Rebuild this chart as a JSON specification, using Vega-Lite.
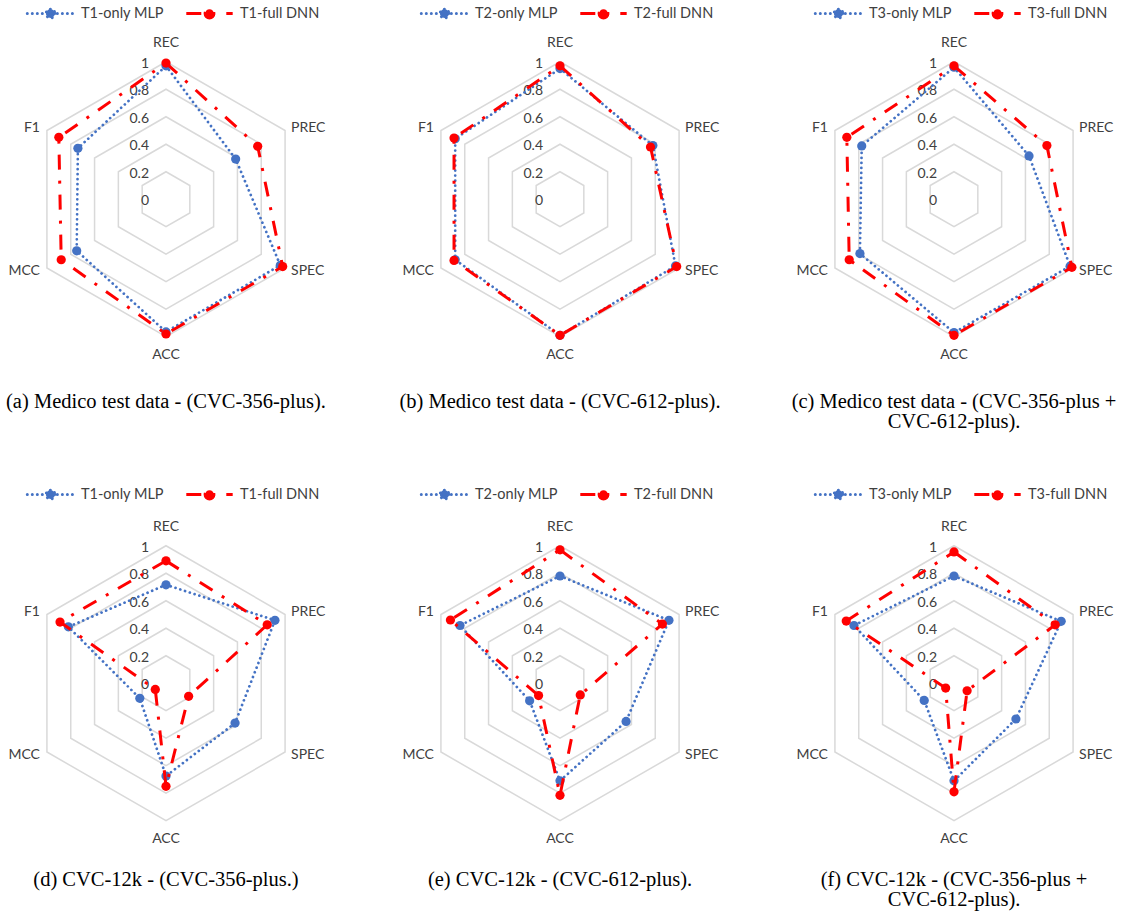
{
"$schema":"https://vega.github.io/schema/vega-lite/v6.json",
"padding":0,
"background":"white",
"datasets":{
"scores":[
{"panel":"a","model":"MLP","series":"T1-only MLP","REC":0.97,"PREC":0.585,"SPEC":0.96,"ACC":0.965,"MCC":0.75,"F1":0.74},
{"panel":"a","model":"DNN","series":"T1-full DNN","REC":0.99,"PREC":0.77,"SPEC":0.98,"ACC":0.98,"MCC":0.88,"F1":0.90},
{"panel":"b","model":"MLP","series":"T2-only MLP","REC":0.95,"PREC":0.78,"SPEC":0.97,"ACC":0.99,"MCC":0.88,"F1":0.88},
{"panel":"b","model":"DNN","series":"T2-full DNN","REC":0.97,"PREC":0.76,"SPEC":0.98,"ACC":0.99,"MCC":0.89,"F1":0.89},
{"panel":"c","model":"MLP","series":"T3-only MLP","REC":0.96,"PREC":0.63,"SPEC":0.975,"ACC":0.97,"MCC":0.79,"F1":0.775},
{"panel":"c","model":"DNN","series":"T3-full DNN","REC":0.97,"PREC":0.78,"SPEC":0.99,"ACC":0.99,"MCC":0.88,"F1":0.90},
{"panel":"d","model":"MLP","series":"T1-only MLP","REC":0.716,"PREC":0.915,"SPEC":0.58,"ACC":0.675,"MCC":0.22,"F1":0.82},
{"panel":"d","model":"DNN","series":"T1-full DNN","REC":0.89,"PREC":0.85,"SPEC":0.19,"ACC":0.75,"MCC":0.09,"F1":0.89},
{"panel":"e","model":"MLP","series":"T2-only MLP","REC":0.78,"PREC":0.915,"SPEC":0.555,"ACC":0.71,"MCC":0.255,"F1":0.84},
{"panel":"e","model":"DNN","series":"T2-full DNN","REC":0.97,"PREC":0.86,"SPEC":0.17,"ACC":0.815,"MCC":0.18,"F1":0.92},
{"panel":"f","model":"MLP","series":"T3-only MLP","REC":0.78,"PREC":0.90,"SPEC":0.52,"ACC":0.71,"MCC":0.25,"F1":0.84},
{"panel":"f","model":"DNN","series":"T3-full DNN","REC":0.955,"PREC":0.85,"SPEC":0.11,"ACC":0.79,"MCC":0.07,"F1":0.905}
],
"axes":[{"metric":"REC","ord":0},{"metric":"PREC","ord":1},{"metric":"SPEC","ord":2},{"metric":"ACC","ord":3},{"metric":"MCC","ord":4},{"metric":"F1","ord":5}],
"grid":[{"level":0.2,"ord":[0,1,2,3,4,5]},{"level":0.4,"ord":[0,1,2,3,4,5]},{"level":0.6,"ord":[0,1,2,3,4,5]},{"level":0.8,"ord":[0,1,2,3,4,5]},{"level":1,"ord":[0,1,2,3,4,5]}],
"ticks":[{"level":0},{"level":0.2},{"level":0.4},{"level":0.6},{"level":0.8},{"level":1}]
},
"concat":[
{"width":332,"height":385,"title":{"text":"(a) Medico test data - (CVC-356-plus).","offset":7},
"encoding":{"x":{"field":"px","type":"quantitative","scale":{"domain":[-1.2073,1.2073],"nice":false,"zero":false},"axis":null},"y":{"field":"py","type":"quantitative","scale":{"domain":[-1.351,1.449],"nice":false,"zero":false},"axis":null}},
"layer":[
{"data":{"name":"grid"},"transform":[{"flatten":["ord"]},{"calculate":"datum.level*sin(datum.ord*PI/3)","as":"px"},{"calculate":"datum.level*cos(datum.ord*PI/3)","as":"py"}],"mark":{"type":"line","interpolate":"linear-closed","stroke":"#D9D9D9","strokeWidth":1.5},"encoding":{"detail":{"field":"level","type":"nominal"},"order":{"field":"ord","type":"quantitative"}}},
{"data":{"name":"ticks"},"transform":[{"calculate":"0","as":"px"},{"calculate":"datum.level","as":"py"}],"mark":{"type":"text","align":"right","dx":-17,"dy":2},"encoding":{"text":{"field":"level","type":"quantitative"}}},
{"data":{"name":"axes"},"transform":[{"filter":"datum.ord==0||datum.ord==3"},{"calculate":"1.135*sin(datum.ord*PI/3)","as":"px"},{"calculate":"1.135*cos(datum.ord*PI/3)","as":"py"}],"mark":{"type":"text","align":"center"},"encoding":{"text":{"field":"metric","type":"nominal"}}},
{"data":{"name":"axes"},"transform":[{"filter":"datum.ord==1||datum.ord==2"},{"calculate":"sin(datum.ord*PI/3)","as":"px"},{"calculate":"1.04*cos(datum.ord*PI/3)","as":"py"}],"mark":{"type":"text","align":"left","dx":6},"encoding":{"text":{"field":"metric","type":"nominal"}}},
{"data":{"name":"axes"},"transform":[{"filter":"datum.ord==4||datum.ord==5"},{"calculate":"sin(datum.ord*PI/3)","as":"px"},{"calculate":"1.04*cos(datum.ord*PI/3)","as":"py"}],"mark":{"type":"text","align":"right","dx":-7},"encoding":{"text":{"field":"metric","type":"nominal"}}},
{"data":{"name":"scores"},"transform":[{"filter":"datum.panel=='a' && datum.model=='MLP'"},{"fold":["REC","PREC","SPEC","ACC","MCC","F1"],"as":["metric","value"]},{"lookup":"metric","from":{"data":{"name":"axes"},"key":"metric","fields":["ord"]}},{"calculate":"datum.value*sin(datum.ord*PI/3)","as":"px"},{"calculate":"datum.value*cos(datum.ord*PI/3)","as":"py"}],"mark":{"type":"line","interpolate":"linear-closed","strokeWidth":2.75,"strokeDash":[0.01,5],"strokeCap":"round"},"encoding":{"order":{"field":"ord","type":"quantitative"},"color":{"field":"series","type":"nominal","scale":{"domain":["T1-only MLP","T1-full DNN"],"range":["#4472C4","#FF0000"]},"legend":{"orient":"none","legendX":41,"legendY":4,"encode":{"symbols":{"update":{"fill":[{"test":"indexof(datum.value,'MLP')>=0","value":"#4472C4"},{"value":"#FF0000"}],"stroke":[{"test":"indexof(datum.value,'MLP')>=0","value":"#4472C4"},{"value":"#FF0000"}],"strokeDash":[{"test":"indexof(datum.value,'MLP')>=0","value":[0.01,5]},{"value":[15,11,3,11]}],"strokeCap":[{"test":"indexof(datum.value,'MLP')>=0","value":"round"},{"value":"butt"}],"opacity":{"value":1}}}}}}}},
{"data":{"name":"scores"},"transform":[{"filter":"datum.panel=='a' && datum.model=='MLP'"},{"fold":["REC","PREC","SPEC","ACC","MCC","F1"],"as":["metric","value"]},{"lookup":"metric","from":{"data":{"name":"axes"},"key":"metric","fields":["ord"]}},{"calculate":"datum.value*sin(datum.ord*PI/3)","as":"px"},{"calculate":"datum.value*cos(datum.ord*PI/3)","as":"py"}],"mark":{"type":"point","filled":true,"size":85,"opacity":1},"encoding":{"color":{"field":"series","type":"nominal"}}},
{"data":{"name":"scores"},"transform":[{"filter":"datum.panel=='a' && datum.model=='DNN'"},{"fold":["REC","PREC","SPEC","ACC","MCC","F1"],"as":["metric","value"]},{"lookup":"metric","from":{"data":{"name":"axes"},"key":"metric","fields":["ord"]}},{"calculate":"datum.value*sin(datum.ord*PI/3)","as":"px"},{"calculate":"datum.value*cos(datum.ord*PI/3)","as":"py"}],"mark":{"type":"line","interpolate":"linear-closed","strokeWidth":3,"strokeDash":[15,11,3,11]},"encoding":{"order":{"field":"ord","type":"quantitative"},"color":{"field":"series","type":"nominal"}}},
{"data":{"name":"scores"},"transform":[{"filter":"datum.panel=='a' && datum.model=='DNN'"},{"fold":["REC","PREC","SPEC","ACC","MCC","F1"],"as":["metric","value"]},{"lookup":"metric","from":{"data":{"name":"axes"},"key":"metric","fields":["ord"]}},{"calculate":"datum.value*sin(datum.ord*PI/3)","as":"px"},{"calculate":"datum.value*cos(datum.ord*PI/3)","as":"py"}],"mark":{"type":"point","filled":true,"size":85,"opacity":1},"encoding":{"color":{"field":"series","type":"nominal"}}}
]},
{"width":332,"height":385,"title":{"text":"(b) Medico test data - (CVC-612-plus).","offset":7},
"encoding":{"x":{"field":"px","type":"quantitative","scale":{"domain":[-1.2073,1.2073],"nice":false,"zero":false},"axis":null},"y":{"field":"py","type":"quantitative","scale":{"domain":[-1.351,1.449],"nice":false,"zero":false},"axis":null}},
"layer":[
{"data":{"name":"grid"},"transform":[{"flatten":["ord"]},{"calculate":"datum.level*sin(datum.ord*PI/3)","as":"px"},{"calculate":"datum.level*cos(datum.ord*PI/3)","as":"py"}],"mark":{"type":"line","interpolate":"linear-closed","stroke":"#D9D9D9","strokeWidth":1.5},"encoding":{"detail":{"field":"level","type":"nominal"},"order":{"field":"ord","type":"quantitative"}}},
{"data":{"name":"ticks"},"transform":[{"calculate":"0","as":"px"},{"calculate":"datum.level","as":"py"}],"mark":{"type":"text","align":"right","dx":-17,"dy":2},"encoding":{"text":{"field":"level","type":"quantitative"}}},
{"data":{"name":"axes"},"transform":[{"filter":"datum.ord==0||datum.ord==3"},{"calculate":"1.135*sin(datum.ord*PI/3)","as":"px"},{"calculate":"1.135*cos(datum.ord*PI/3)","as":"py"}],"mark":{"type":"text","align":"center"},"encoding":{"text":{"field":"metric","type":"nominal"}}},
{"data":{"name":"axes"},"transform":[{"filter":"datum.ord==1||datum.ord==2"},{"calculate":"sin(datum.ord*PI/3)","as":"px"},{"calculate":"1.04*cos(datum.ord*PI/3)","as":"py"}],"mark":{"type":"text","align":"left","dx":6},"encoding":{"text":{"field":"metric","type":"nominal"}}},
{"data":{"name":"axes"},"transform":[{"filter":"datum.ord==4||datum.ord==5"},{"calculate":"sin(datum.ord*PI/3)","as":"px"},{"calculate":"1.04*cos(datum.ord*PI/3)","as":"py"}],"mark":{"type":"text","align":"right","dx":-7},"encoding":{"text":{"field":"metric","type":"nominal"}}},
{"data":{"name":"scores"},"transform":[{"filter":"datum.panel=='b' && datum.model=='MLP'"},{"fold":["REC","PREC","SPEC","ACC","MCC","F1"],"as":["metric","value"]},{"lookup":"metric","from":{"data":{"name":"axes"},"key":"metric","fields":["ord"]}},{"calculate":"datum.value*sin(datum.ord*PI/3)","as":"px"},{"calculate":"datum.value*cos(datum.ord*PI/3)","as":"py"}],"mark":{"type":"line","interpolate":"linear-closed","strokeWidth":2.75,"strokeDash":[0.01,5],"strokeCap":"round"},"encoding":{"order":{"field":"ord","type":"quantitative"},"color":{"field":"series","type":"nominal","scale":{"domain":["T2-only MLP","T2-full DNN"],"range":["#4472C4","#FF0000"]},"legend":{"orient":"none","legendX":41,"legendY":4,"encode":{"symbols":{"update":{"fill":[{"test":"indexof(datum.value,'MLP')>=0","value":"#4472C4"},{"value":"#FF0000"}],"stroke":[{"test":"indexof(datum.value,'MLP')>=0","value":"#4472C4"},{"value":"#FF0000"}],"strokeDash":[{"test":"indexof(datum.value,'MLP')>=0","value":[0.01,5]},{"value":[15,11,3,11]}],"strokeCap":[{"test":"indexof(datum.value,'MLP')>=0","value":"round"},{"value":"butt"}],"opacity":{"value":1}}}}}}}},
{"data":{"name":"scores"},"transform":[{"filter":"datum.panel=='b' && datum.model=='MLP'"},{"fold":["REC","PREC","SPEC","ACC","MCC","F1"],"as":["metric","value"]},{"lookup":"metric","from":{"data":{"name":"axes"},"key":"metric","fields":["ord"]}},{"calculate":"datum.value*sin(datum.ord*PI/3)","as":"px"},{"calculate":"datum.value*cos(datum.ord*PI/3)","as":"py"}],"mark":{"type":"point","filled":true,"size":85,"opacity":1},"encoding":{"color":{"field":"series","type":"nominal"}}},
{"data":{"name":"scores"},"transform":[{"filter":"datum.panel=='b' && datum.model=='DNN'"},{"fold":["REC","PREC","SPEC","ACC","MCC","F1"],"as":["metric","value"]},{"lookup":"metric","from":{"data":{"name":"axes"},"key":"metric","fields":["ord"]}},{"calculate":"datum.value*sin(datum.ord*PI/3)","as":"px"},{"calculate":"datum.value*cos(datum.ord*PI/3)","as":"py"}],"mark":{"type":"line","interpolate":"linear-closed","strokeWidth":3,"strokeDash":[15,11,3,11]},"encoding":{"order":{"field":"ord","type":"quantitative"},"color":{"field":"series","type":"nominal"}}},
{"data":{"name":"scores"},"transform":[{"filter":"datum.panel=='b' && datum.model=='DNN'"},{"fold":["REC","PREC","SPEC","ACC","MCC","F1"],"as":["metric","value"]},{"lookup":"metric","from":{"data":{"name":"axes"},"key":"metric","fields":["ord"]}},{"calculate":"datum.value*sin(datum.ord*PI/3)","as":"px"},{"calculate":"datum.value*cos(datum.ord*PI/3)","as":"py"}],"mark":{"type":"point","filled":true,"size":85,"opacity":1},"encoding":{"color":{"field":"series","type":"nominal"}}}
]},
{"width":332,"height":385,"title":{"text":["(c) Medico test data - (CVC-356-plus +","CVC-612-plus)."],"offset":7},
"encoding":{"x":{"field":"px","type":"quantitative","scale":{"domain":[-1.2073,1.2073],"nice":false,"zero":false},"axis":null},"y":{"field":"py","type":"quantitative","scale":{"domain":[-1.351,1.449],"nice":false,"zero":false},"axis":null}},
"layer":[
{"data":{"name":"grid"},"transform":[{"flatten":["ord"]},{"calculate":"datum.level*sin(datum.ord*PI/3)","as":"px"},{"calculate":"datum.level*cos(datum.ord*PI/3)","as":"py"}],"mark":{"type":"line","interpolate":"linear-closed","stroke":"#D9D9D9","strokeWidth":1.5},"encoding":{"detail":{"field":"level","type":"nominal"},"order":{"field":"ord","type":"quantitative"}}},
{"data":{"name":"ticks"},"transform":[{"calculate":"0","as":"px"},{"calculate":"datum.level","as":"py"}],"mark":{"type":"text","align":"right","dx":-17,"dy":2},"encoding":{"text":{"field":"level","type":"quantitative"}}},
{"data":{"name":"axes"},"transform":[{"filter":"datum.ord==0||datum.ord==3"},{"calculate":"1.135*sin(datum.ord*PI/3)","as":"px"},{"calculate":"1.135*cos(datum.ord*PI/3)","as":"py"}],"mark":{"type":"text","align":"center"},"encoding":{"text":{"field":"metric","type":"nominal"}}},
{"data":{"name":"axes"},"transform":[{"filter":"datum.ord==1||datum.ord==2"},{"calculate":"sin(datum.ord*PI/3)","as":"px"},{"calculate":"1.04*cos(datum.ord*PI/3)","as":"py"}],"mark":{"type":"text","align":"left","dx":6},"encoding":{"text":{"field":"metric","type":"nominal"}}},
{"data":{"name":"axes"},"transform":[{"filter":"datum.ord==4||datum.ord==5"},{"calculate":"sin(datum.ord*PI/3)","as":"px"},{"calculate":"1.04*cos(datum.ord*PI/3)","as":"py"}],"mark":{"type":"text","align":"right","dx":-7},"encoding":{"text":{"field":"metric","type":"nominal"}}},
{"data":{"name":"scores"},"transform":[{"filter":"datum.panel=='c' && datum.model=='MLP'"},{"fold":["REC","PREC","SPEC","ACC","MCC","F1"],"as":["metric","value"]},{"lookup":"metric","from":{"data":{"name":"axes"},"key":"metric","fields":["ord"]}},{"calculate":"datum.value*sin(datum.ord*PI/3)","as":"px"},{"calculate":"datum.value*cos(datum.ord*PI/3)","as":"py"}],"mark":{"type":"line","interpolate":"linear-closed","strokeWidth":2.75,"strokeDash":[0.01,5],"strokeCap":"round"},"encoding":{"order":{"field":"ord","type":"quantitative"},"color":{"field":"series","type":"nominal","scale":{"domain":["T3-only MLP","T3-full DNN"],"range":["#4472C4","#FF0000"]},"legend":{"orient":"none","legendX":41,"legendY":4,"encode":{"symbols":{"update":{"fill":[{"test":"indexof(datum.value,'MLP')>=0","value":"#4472C4"},{"value":"#FF0000"}],"stroke":[{"test":"indexof(datum.value,'MLP')>=0","value":"#4472C4"},{"value":"#FF0000"}],"strokeDash":[{"test":"indexof(datum.value,'MLP')>=0","value":[0.01,5]},{"value":[15,11,3,11]}],"strokeCap":[{"test":"indexof(datum.value,'MLP')>=0","value":"round"},{"value":"butt"}],"opacity":{"value":1}}}}}}}},
{"data":{"name":"scores"},"transform":[{"filter":"datum.panel=='c' && datum.model=='MLP'"},{"fold":["REC","PREC","SPEC","ACC","MCC","F1"],"as":["metric","value"]},{"lookup":"metric","from":{"data":{"name":"axes"},"key":"metric","fields":["ord"]}},{"calculate":"datum.value*sin(datum.ord*PI/3)","as":"px"},{"calculate":"datum.value*cos(datum.ord*PI/3)","as":"py"}],"mark":{"type":"point","filled":true,"size":85,"opacity":1},"encoding":{"color":{"field":"series","type":"nominal"}}},
{"data":{"name":"scores"},"transform":[{"filter":"datum.panel=='c' && datum.model=='DNN'"},{"fold":["REC","PREC","SPEC","ACC","MCC","F1"],"as":["metric","value"]},{"lookup":"metric","from":{"data":{"name":"axes"},"key":"metric","fields":["ord"]}},{"calculate":"datum.value*sin(datum.ord*PI/3)","as":"px"},{"calculate":"datum.value*cos(datum.ord*PI/3)","as":"py"}],"mark":{"type":"line","interpolate":"linear-closed","strokeWidth":3,"strokeDash":[15,11,3,11]},"encoding":{"order":{"field":"ord","type":"quantitative"},"color":{"field":"series","type":"nominal"}}},
{"data":{"name":"scores"},"transform":[{"filter":"datum.panel=='c' && datum.model=='DNN'"},{"fold":["REC","PREC","SPEC","ACC","MCC","F1"],"as":["metric","value"]},{"lookup":"metric","from":{"data":{"name":"axes"},"key":"metric","fields":["ord"]}},{"calculate":"datum.value*sin(datum.ord*PI/3)","as":"px"},{"calculate":"datum.value*cos(datum.ord*PI/3)","as":"py"}],"mark":{"type":"point","filled":true,"size":85,"opacity":1},"encoding":{"color":{"field":"series","type":"nominal"}}}
]},
{"width":332,"height":385,"title":{"text":"(d) CVC-12k - (CVC-356-plus.)","offset":1},
"encoding":{"x":{"field":"px","type":"quantitative","scale":{"domain":[-1.2073,1.2073],"nice":false,"zero":false},"axis":null},"y":{"field":"py","type":"quantitative","scale":{"domain":[-1.351,1.449],"nice":false,"zero":false},"axis":null}},
"layer":[
{"data":{"name":"grid"},"transform":[{"flatten":["ord"]},{"calculate":"datum.level*sin(datum.ord*PI/3)","as":"px"},{"calculate":"datum.level*cos(datum.ord*PI/3)","as":"py"}],"mark":{"type":"line","interpolate":"linear-closed","stroke":"#D9D9D9","strokeWidth":1.5},"encoding":{"detail":{"field":"level","type":"nominal"},"order":{"field":"ord","type":"quantitative"}}},
{"data":{"name":"ticks"},"transform":[{"calculate":"0","as":"px"},{"calculate":"datum.level","as":"py"}],"mark":{"type":"text","align":"right","dx":-17,"dy":2},"encoding":{"text":{"field":"level","type":"quantitative"}}},
{"data":{"name":"axes"},"transform":[{"filter":"datum.ord==0||datum.ord==3"},{"calculate":"1.135*sin(datum.ord*PI/3)","as":"px"},{"calculate":"1.135*cos(datum.ord*PI/3)","as":"py"}],"mark":{"type":"text","align":"center"},"encoding":{"text":{"field":"metric","type":"nominal"}}},
{"data":{"name":"axes"},"transform":[{"filter":"datum.ord==1||datum.ord==2"},{"calculate":"sin(datum.ord*PI/3)","as":"px"},{"calculate":"1.04*cos(datum.ord*PI/3)","as":"py"}],"mark":{"type":"text","align":"left","dx":6},"encoding":{"text":{"field":"metric","type":"nominal"}}},
{"data":{"name":"axes"},"transform":[{"filter":"datum.ord==4||datum.ord==5"},{"calculate":"sin(datum.ord*PI/3)","as":"px"},{"calculate":"1.04*cos(datum.ord*PI/3)","as":"py"}],"mark":{"type":"text","align":"right","dx":-7},"encoding":{"text":{"field":"metric","type":"nominal"}}},
{"data":{"name":"scores"},"transform":[{"filter":"datum.panel=='d' && datum.model=='MLP'"},{"fold":["REC","PREC","SPEC","ACC","MCC","F1"],"as":["metric","value"]},{"lookup":"metric","from":{"data":{"name":"axes"},"key":"metric","fields":["ord"]}},{"calculate":"datum.value*sin(datum.ord*PI/3)","as":"px"},{"calculate":"datum.value*cos(datum.ord*PI/3)","as":"py"}],"mark":{"type":"line","interpolate":"linear-closed","strokeWidth":2.75,"strokeDash":[0.01,5],"strokeCap":"round"},"encoding":{"order":{"field":"ord","type":"quantitative"},"color":{"field":"series","type":"nominal","scale":{"domain":["T1-only MLP","T1-full DNN"],"range":["#4472C4","#FF0000"]},"legend":{"orient":"none","legendX":41,"legendY":1,"encode":{"symbols":{"update":{"fill":[{"test":"indexof(datum.value,'MLP')>=0","value":"#4472C4"},{"value":"#FF0000"}],"stroke":[{"test":"indexof(datum.value,'MLP')>=0","value":"#4472C4"},{"value":"#FF0000"}],"strokeDash":[{"test":"indexof(datum.value,'MLP')>=0","value":[0.01,5]},{"value":[15,11,3,11]}],"strokeCap":[{"test":"indexof(datum.value,'MLP')>=0","value":"round"},{"value":"butt"}],"opacity":{"value":1}}}}}}}},
{"data":{"name":"scores"},"transform":[{"filter":"datum.panel=='d' && datum.model=='MLP'"},{"fold":["REC","PREC","SPEC","ACC","MCC","F1"],"as":["metric","value"]},{"lookup":"metric","from":{"data":{"name":"axes"},"key":"metric","fields":["ord"]}},{"calculate":"datum.value*sin(datum.ord*PI/3)","as":"px"},{"calculate":"datum.value*cos(datum.ord*PI/3)","as":"py"}],"mark":{"type":"point","filled":true,"size":85,"opacity":1},"encoding":{"color":{"field":"series","type":"nominal"}}},
{"data":{"name":"scores"},"transform":[{"filter":"datum.panel=='d' && datum.model=='DNN'"},{"fold":["REC","PREC","SPEC","ACC","MCC","F1"],"as":["metric","value"]},{"lookup":"metric","from":{"data":{"name":"axes"},"key":"metric","fields":["ord"]}},{"calculate":"datum.value*sin(datum.ord*PI/3)","as":"px"},{"calculate":"datum.value*cos(datum.ord*PI/3)","as":"py"}],"mark":{"type":"line","interpolate":"linear-closed","strokeWidth":3,"strokeDash":[15,11,3,11]},"encoding":{"order":{"field":"ord","type":"quantitative"},"color":{"field":"series","type":"nominal"}}},
{"data":{"name":"scores"},"transform":[{"filter":"datum.panel=='d' && datum.model=='DNN'"},{"fold":["REC","PREC","SPEC","ACC","MCC","F1"],"as":["metric","value"]},{"lookup":"metric","from":{"data":{"name":"axes"},"key":"metric","fields":["ord"]}},{"calculate":"datum.value*sin(datum.ord*PI/3)","as":"px"},{"calculate":"datum.value*cos(datum.ord*PI/3)","as":"py"}],"mark":{"type":"point","filled":true,"size":85,"opacity":1},"encoding":{"color":{"field":"series","type":"nominal"}}}
]},
{"width":332,"height":385,"title":{"text":"(e) CVC-12k - (CVC-612-plus).","offset":1},
"encoding":{"x":{"field":"px","type":"quantitative","scale":{"domain":[-1.2073,1.2073],"nice":false,"zero":false},"axis":null},"y":{"field":"py","type":"quantitative","scale":{"domain":[-1.351,1.449],"nice":false,"zero":false},"axis":null}},
"layer":[
{"data":{"name":"grid"},"transform":[{"flatten":["ord"]},{"calculate":"datum.level*sin(datum.ord*PI/3)","as":"px"},{"calculate":"datum.level*cos(datum.ord*PI/3)","as":"py"}],"mark":{"type":"line","interpolate":"linear-closed","stroke":"#D9D9D9","strokeWidth":1.5},"encoding":{"detail":{"field":"level","type":"nominal"},"order":{"field":"ord","type":"quantitative"}}},
{"data":{"name":"ticks"},"transform":[{"calculate":"0","as":"px"},{"calculate":"datum.level","as":"py"}],"mark":{"type":"text","align":"right","dx":-17,"dy":2},"encoding":{"text":{"field":"level","type":"quantitative"}}},
{"data":{"name":"axes"},"transform":[{"filter":"datum.ord==0||datum.ord==3"},{"calculate":"1.135*sin(datum.ord*PI/3)","as":"px"},{"calculate":"1.135*cos(datum.ord*PI/3)","as":"py"}],"mark":{"type":"text","align":"center"},"encoding":{"text":{"field":"metric","type":"nominal"}}},
{"data":{"name":"axes"},"transform":[{"filter":"datum.ord==1||datum.ord==2"},{"calculate":"sin(datum.ord*PI/3)","as":"px"},{"calculate":"1.04*cos(datum.ord*PI/3)","as":"py"}],"mark":{"type":"text","align":"left","dx":6},"encoding":{"text":{"field":"metric","type":"nominal"}}},
{"data":{"name":"axes"},"transform":[{"filter":"datum.ord==4||datum.ord==5"},{"calculate":"sin(datum.ord*PI/3)","as":"px"},{"calculate":"1.04*cos(datum.ord*PI/3)","as":"py"}],"mark":{"type":"text","align":"right","dx":-7},"encoding":{"text":{"field":"metric","type":"nominal"}}},
{"data":{"name":"scores"},"transform":[{"filter":"datum.panel=='e' && datum.model=='MLP'"},{"fold":["REC","PREC","SPEC","ACC","MCC","F1"],"as":["metric","value"]},{"lookup":"metric","from":{"data":{"name":"axes"},"key":"metric","fields":["ord"]}},{"calculate":"datum.value*sin(datum.ord*PI/3)","as":"px"},{"calculate":"datum.value*cos(datum.ord*PI/3)","as":"py"}],"mark":{"type":"line","interpolate":"linear-closed","strokeWidth":2.75,"strokeDash":[0.01,5],"strokeCap":"round"},"encoding":{"order":{"field":"ord","type":"quantitative"},"color":{"field":"series","type":"nominal","scale":{"domain":["T2-only MLP","T2-full DNN"],"range":["#4472C4","#FF0000"]},"legend":{"orient":"none","legendX":41,"legendY":1,"encode":{"symbols":{"update":{"fill":[{"test":"indexof(datum.value,'MLP')>=0","value":"#4472C4"},{"value":"#FF0000"}],"stroke":[{"test":"indexof(datum.value,'MLP')>=0","value":"#4472C4"},{"value":"#FF0000"}],"strokeDash":[{"test":"indexof(datum.value,'MLP')>=0","value":[0.01,5]},{"value":[15,11,3,11]}],"strokeCap":[{"test":"indexof(datum.value,'MLP')>=0","value":"round"},{"value":"butt"}],"opacity":{"value":1}}}}}}}},
{"data":{"name":"scores"},"transform":[{"filter":"datum.panel=='e' && datum.model=='MLP'"},{"fold":["REC","PREC","SPEC","ACC","MCC","F1"],"as":["metric","value"]},{"lookup":"metric","from":{"data":{"name":"axes"},"key":"metric","fields":["ord"]}},{"calculate":"datum.value*sin(datum.ord*PI/3)","as":"px"},{"calculate":"datum.value*cos(datum.ord*PI/3)","as":"py"}],"mark":{"type":"point","filled":true,"size":85,"opacity":1},"encoding":{"color":{"field":"series","type":"nominal"}}},
{"data":{"name":"scores"},"transform":[{"filter":"datum.panel=='e' && datum.model=='DNN'"},{"fold":["REC","PREC","SPEC","ACC","MCC","F1"],"as":["metric","value"]},{"lookup":"metric","from":{"data":{"name":"axes"},"key":"metric","fields":["ord"]}},{"calculate":"datum.value*sin(datum.ord*PI/3)","as":"px"},{"calculate":"datum.value*cos(datum.ord*PI/3)","as":"py"}],"mark":{"type":"line","interpolate":"linear-closed","strokeWidth":3,"strokeDash":[15,11,3,11]},"encoding":{"order":{"field":"ord","type":"quantitative"},"color":{"field":"series","type":"nominal"}}},
{"data":{"name":"scores"},"transform":[{"filter":"datum.panel=='e' && datum.model=='DNN'"},{"fold":["REC","PREC","SPEC","ACC","MCC","F1"],"as":["metric","value"]},{"lookup":"metric","from":{"data":{"name":"axes"},"key":"metric","fields":["ord"]}},{"calculate":"datum.value*sin(datum.ord*PI/3)","as":"px"},{"calculate":"datum.value*cos(datum.ord*PI/3)","as":"py"}],"mark":{"type":"point","filled":true,"size":85,"opacity":1},"encoding":{"color":{"field":"series","type":"nominal"}}}
]},
{"width":332,"height":385,"title":{"text":["(f) CVC-12k - (CVC-356-plus +","CVC-612-plus)."],"offset":1},
"encoding":{"x":{"field":"px","type":"quantitative","scale":{"domain":[-1.2073,1.2073],"nice":false,"zero":false},"axis":null},"y":{"field":"py","type":"quantitative","scale":{"domain":[-1.351,1.449],"nice":false,"zero":false},"axis":null}},
"layer":[
{"data":{"name":"grid"},"transform":[{"flatten":["ord"]},{"calculate":"datum.level*sin(datum.ord*PI/3)","as":"px"},{"calculate":"datum.level*cos(datum.ord*PI/3)","as":"py"}],"mark":{"type":"line","interpolate":"linear-closed","stroke":"#D9D9D9","strokeWidth":1.5},"encoding":{"detail":{"field":"level","type":"nominal"},"order":{"field":"ord","type":"quantitative"}}},
{"data":{"name":"ticks"},"transform":[{"calculate":"0","as":"px"},{"calculate":"datum.level","as":"py"}],"mark":{"type":"text","align":"right","dx":-17,"dy":2},"encoding":{"text":{"field":"level","type":"quantitative"}}},
{"data":{"name":"axes"},"transform":[{"filter":"datum.ord==0||datum.ord==3"},{"calculate":"1.135*sin(datum.ord*PI/3)","as":"px"},{"calculate":"1.135*cos(datum.ord*PI/3)","as":"py"}],"mark":{"type":"text","align":"center"},"encoding":{"text":{"field":"metric","type":"nominal"}}},
{"data":{"name":"axes"},"transform":[{"filter":"datum.ord==1||datum.ord==2"},{"calculate":"sin(datum.ord*PI/3)","as":"px"},{"calculate":"1.04*cos(datum.ord*PI/3)","as":"py"}],"mark":{"type":"text","align":"left","dx":6},"encoding":{"text":{"field":"metric","type":"nominal"}}},
{"data":{"name":"axes"},"transform":[{"filter":"datum.ord==4||datum.ord==5"},{"calculate":"sin(datum.ord*PI/3)","as":"px"},{"calculate":"1.04*cos(datum.ord*PI/3)","as":"py"}],"mark":{"type":"text","align":"right","dx":-7},"encoding":{"text":{"field":"metric","type":"nominal"}}},
{"data":{"name":"scores"},"transform":[{"filter":"datum.panel=='f' && datum.model=='MLP'"},{"fold":["REC","PREC","SPEC","ACC","MCC","F1"],"as":["metric","value"]},{"lookup":"metric","from":{"data":{"name":"axes"},"key":"metric","fields":["ord"]}},{"calculate":"datum.value*sin(datum.ord*PI/3)","as":"px"},{"calculate":"datum.value*cos(datum.ord*PI/3)","as":"py"}],"mark":{"type":"line","interpolate":"linear-closed","strokeWidth":2.75,"strokeDash":[0.01,5],"strokeCap":"round"},"encoding":{"order":{"field":"ord","type":"quantitative"},"color":{"field":"series","type":"nominal","scale":{"domain":["T3-only MLP","T3-full DNN"],"range":["#4472C4","#FF0000"]},"legend":{"orient":"none","legendX":41,"legendY":1,"encode":{"symbols":{"update":{"fill":[{"test":"indexof(datum.value,'MLP')>=0","value":"#4472C4"},{"value":"#FF0000"}],"stroke":[{"test":"indexof(datum.value,'MLP')>=0","value":"#4472C4"},{"value":"#FF0000"}],"strokeDash":[{"test":"indexof(datum.value,'MLP')>=0","value":[0.01,5]},{"value":[15,11,3,11]}],"strokeCap":[{"test":"indexof(datum.value,'MLP')>=0","value":"round"},{"value":"butt"}],"opacity":{"value":1}}}}}}}},
{"data":{"name":"scores"},"transform":[{"filter":"datum.panel=='f' && datum.model=='MLP'"},{"fold":["REC","PREC","SPEC","ACC","MCC","F1"],"as":["metric","value"]},{"lookup":"metric","from":{"data":{"name":"axes"},"key":"metric","fields":["ord"]}},{"calculate":"datum.value*sin(datum.ord*PI/3)","as":"px"},{"calculate":"datum.value*cos(datum.ord*PI/3)","as":"py"}],"mark":{"type":"point","filled":true,"size":85,"opacity":1},"encoding":{"color":{"field":"series","type":"nominal"}}},
{"data":{"name":"scores"},"transform":[{"filter":"datum.panel=='f' && datum.model=='DNN'"},{"fold":["REC","PREC","SPEC","ACC","MCC","F1"],"as":["metric","value"]},{"lookup":"metric","from":{"data":{"name":"axes"},"key":"metric","fields":["ord"]}},{"calculate":"datum.value*sin(datum.ord*PI/3)","as":"px"},{"calculate":"datum.value*cos(datum.ord*PI/3)","as":"py"}],"mark":{"type":"line","interpolate":"linear-closed","strokeWidth":3,"strokeDash":[15,11,3,11]},"encoding":{"order":{"field":"ord","type":"quantitative"},"color":{"field":"series","type":"nominal"}}},
{"data":{"name":"scores"},"transform":[{"filter":"datum.panel=='f' && datum.model=='DNN'"},{"fold":["REC","PREC","SPEC","ACC","MCC","F1"],"as":["metric","value"]},{"lookup":"metric","from":{"data":{"name":"axes"},"key":"metric","fields":["ord"]}},{"calculate":"datum.value*sin(datum.ord*PI/3)","as":"px"},{"calculate":"datum.value*cos(datum.ord*PI/3)","as":"py"}],"mark":{"type":"point","filled":true,"size":85,"opacity":1},"encoding":{"color":{"field":"series","type":"nominal"}}}
]}
],
"columns":3,
"spacing":{"row":99,"column":62},
"bounds":"flush",
"resolve":{"scale":{"color":"independent","x":"independent","y":"independent"},"legend":{"color":"independent"}},
"config":{
"view":{"stroke":null},
"text":{"font":"Lato","fontSize":14,"color":"#404040"},
"title":{"font":"Liberation Serif","fontSize":20.5,"fontWeight":"normal","color":"#000000","anchor":"middle","orient":"bottom","lineHeight":20},
"legend":{"title":null,"direction":"horizontal","symbolType":"M-2.9,0H2.9M0.55,0A0.55,0.55,0,1,1,-0.55,0A0.55,0.55,0,1,1,0.55,0Z","symbolSize":256,"symbolStrokeWidth":3,"labelFont":"Lato","labelFontSize":14.5,"labelColor":"#404040","labelOffset":21,"columnPadding":16,"padding":0,"labelLimit":200}
}
}
